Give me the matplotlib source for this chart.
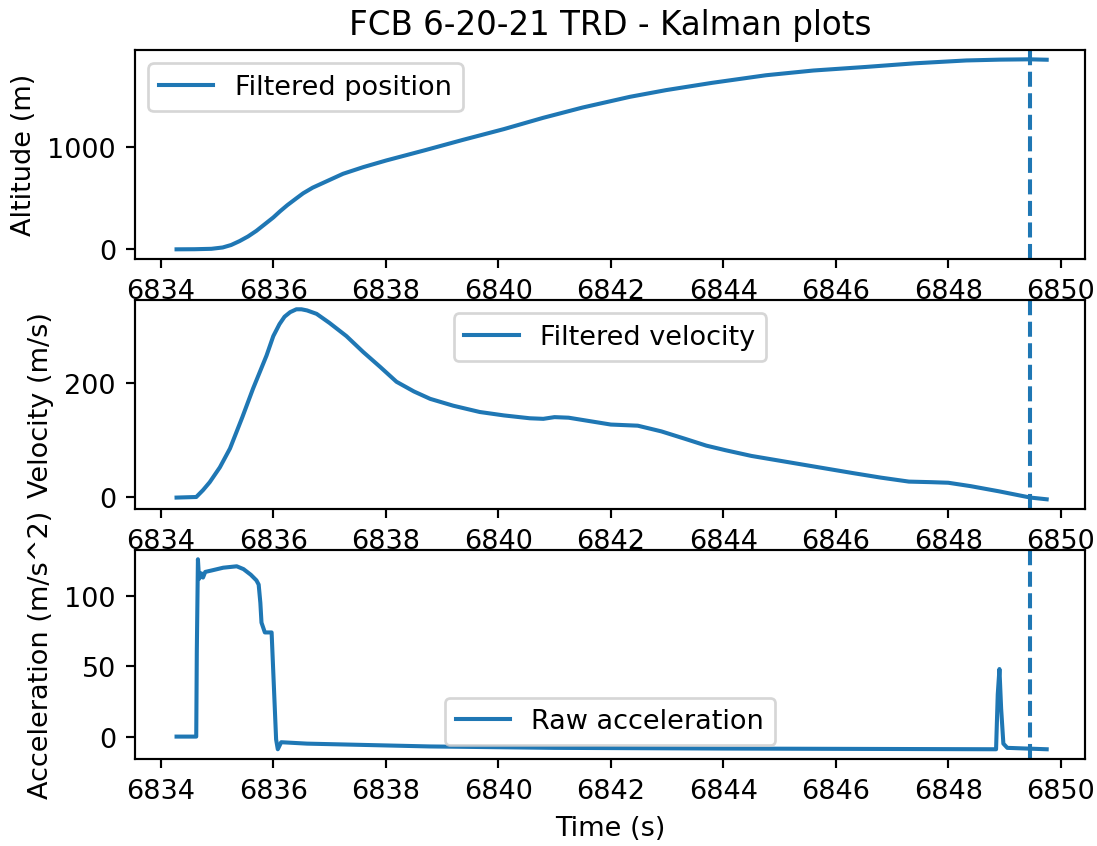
import numpy as np
import matplotlib
matplotlib.use('Agg')
import matplotlib.pyplot as plt

# filtered altitude (m)
t_pos = [6834.28, 6834.60, 6834.90, 6835.10, 6835.25, 6835.40, 6835.55, 6835.70,
         6835.85, 6836.00, 6836.12, 6836.25, 6836.40, 6836.53, 6836.70, 6836.90,
         6837.24, 6837.60, 6838.01, 6838.70, 6839.37, 6840.10, 6840.80, 6841.50,
         6842.34, 6842.98, 6843.80, 6844.76, 6845.60, 6846.54, 6847.40, 6848.32,
         6848.92, 6849.45, 6849.75]
pos = [0, 1, 5, 18, 42, 80, 125, 180,
       245, 310, 370, 430, 492, 545, 600, 650,
       735, 800, 865, 965, 1065, 1170, 1280, 1380,
       1484, 1549, 1620, 1694, 1740, 1775, 1810, 1838,
       1846, 1849, 1845]

# filtered velocity (m/s)
t_vel = [6834.28, 6834.45, 6834.63, 6834.75, 6834.87, 6835.05, 6835.23, 6835.45,
         6835.64, 6835.88, 6836.00, 6836.11, 6836.20, 6836.30, 6836.41, 6836.50,
         6836.60, 6836.77, 6837.00, 6837.30, 6837.60, 6837.90, 6838.19, 6838.50,
         6838.79, 6839.20, 6839.67, 6840.10, 6840.56, 6840.80, 6841.00, 6841.25,
         6841.50, 6842.00, 6842.48, 6842.90, 6843.32, 6843.70, 6844.04, 6844.50,
         6845.10, 6845.70, 6846.30, 6846.80, 6847.30, 6847.70, 6848.00, 6848.40,
         6848.90, 6849.46, 6849.75]
vel = [-1, -0.5, 0, 12, 26, 52, 85, 140,
       190, 248, 282, 303, 316, 324, 329, 329,
       327, 321, 305, 282, 254, 228, 202, 185,
       172, 160, 149, 143, 138, 137, 140, 139,
       135, 127, 125, 115, 102, 90, 82, 72,
       62, 52, 42, 34, 27, 26, 25, 19,
       10, -1, -4]

# raw acceleration (m/s^2)
t_acc = [6834.28, 6834.63, 6834.64, 6834.66, 6834.68, 6834.72, 6834.75, 6834.79,
         6834.90, 6835.11, 6835.35, 6835.47, 6835.60, 6835.70, 6835.74, 6835.77,
         6835.79, 6835.85, 6835.97, 6836.05, 6836.08, 6836.14, 6836.60, 6838.78,
         6841.00, 6844.00, 6848.85, 6848.88, 6848.91, 6848.94, 6848.98, 6849.05,
         6849.75]
acc = [0, 0, 60, 126, 112, 116, 113, 117,
       118, 120, 121, 119, 115, 111, 108, 95,
       81, 74, 74, -2, -9, -4, -5, -7,
       -8, -8.5, -9, 30, 48, 20, -5, -8,
       -9]

apogee = 6849.46

dpi = 195
fig, (ax1, ax2, ax3) = plt.subplots(3, 1, figsize=(1097/dpi, 847/dpi), dpi=dpi)
fig.subplots_adjust(left=0.123, right=0.989, top=0.940, bottom=0.103, hspace=0.196)

ax1.plot(t_pos, pos, label='Filtered position')
ax1.axvline(apogee, linestyle='--')
ax1.set_ylabel('Altitude (m)')
ax1.set_title('FCB 6-20-21 TRD - Kalman plots')
ax1.legend(loc='upper left')

ax2.plot(t_vel, vel, label='Filtered velocity')
ax2.axvline(apogee, linestyle='--')
ax2.set_ylabel('Velocity (m/s)')
ax2.legend(loc='upper center')

ax3.plot(t_acc, acc, label='Raw acceleration')
ax3.axvline(apogee, linestyle='--')
ax3.set_ylabel('Acceleration (m/s^2)')
ax3.set_xlabel('Time (s)')
ax3.legend(loc='lower center')

for ax in (ax1, ax2, ax3):
    ax.set_xlim(6833.54, 6850.43)

fig.savefig('out.png', dpi=dpi)
